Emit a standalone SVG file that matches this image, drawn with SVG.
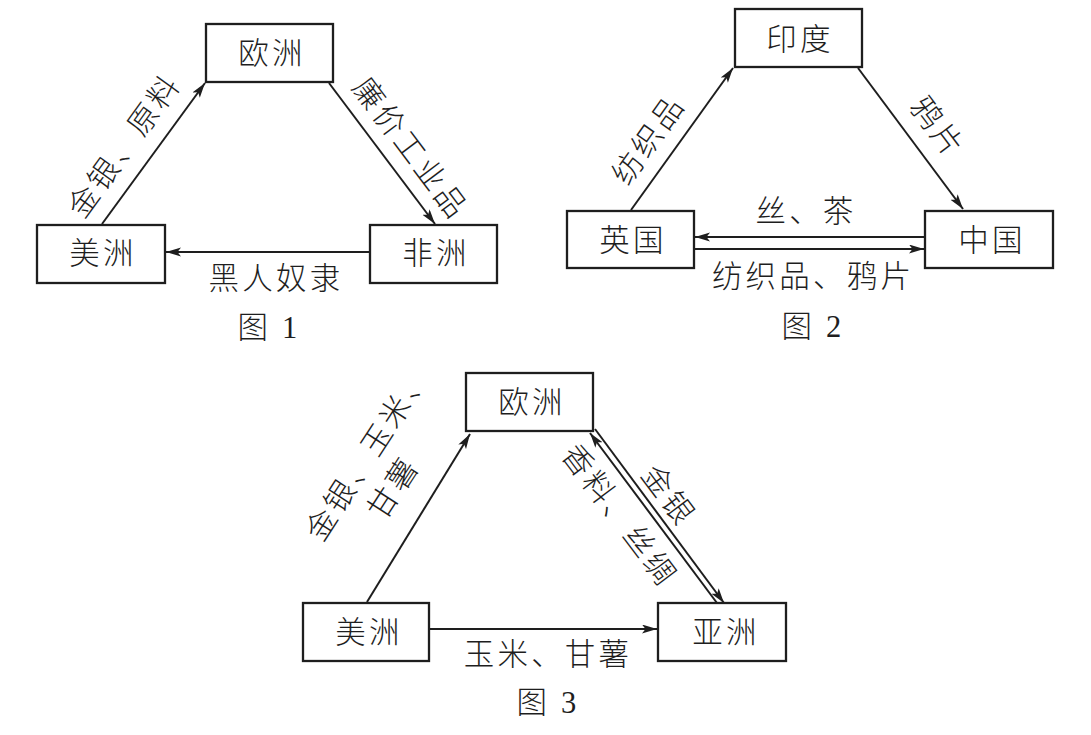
<svg xmlns="http://www.w3.org/2000/svg" width="1091" height="735" viewBox="0 0 1091 735">
<style>
.bg{fill:#ffffff}
.box{fill:#ffffff;stroke:#1e1e1e;stroke-width:2.3}
.t{font-family:"Liberation Serif","Noto Sans CJK SC",serif;font-size:30.5px;font-weight:300;fill:#1e1e1e;letter-spacing:3.2px;text-anchor:middle;dominant-baseline:central}
.ln{fill:none;stroke:#1e1e1e;stroke-width:2}
</style>
<defs>
<marker id="ah" markerUnits="userSpaceOnUse" markerWidth="17" markerHeight="10" refX="15" refY="4.5" orient="auto" viewBox="0 0 17 10">
<path d="M0,0 L15,4.5 L0,9 L3.5,4.5 z" fill="#1e1e1e"/>
</marker>
</defs>
<rect class="bg" x="0" y="0" width="1091" height="735"/>

<g id="connectors">
<!-- Figure 1 -->
<line class="ln" x1="102" y1="224" x2="205" y2="83" marker-end="url(#ah)"/>
<line class="ln" x1="329" y1="83" x2="435" y2="224" marker-end="url(#ah)"/>
<line class="ln" x1="370" y1="252" x2="166" y2="252" marker-end="url(#ah)"/>
<!-- Figure 2 -->
<line class="ln" x1="631" y1="210" x2="733" y2="68" marker-end="url(#ah)"/>
<line class="ln" x1="858" y1="68" x2="963" y2="209" marker-end="url(#ah)"/>
<line class="ln" x1="925" y1="237" x2="695" y2="237" marker-end="url(#ah)"/>
<line class="ln" x1="694" y1="249" x2="924" y2="249" marker-end="url(#ah)"/>
<!-- Figure 3 -->
<line class="ln" x1="367" y1="602" x2="470" y2="434" marker-end="url(#ah)"/>
<line class="ln" x1="429" y1="629" x2="657" y2="629" marker-end="url(#ah)"/>
<line class="ln" x1="717" y1="603" x2="590" y2="433" marker-end="url(#ah)"/>
<line class="ln" x1="595" y1="429" x2="724" y2="603" marker-end="url(#ah)"/>
</g>

<g id="edge-labels">
<text class="t" transform="translate(125,146) rotate(-54)">金银、原料</text>
<text class="t" transform="translate(410,149) rotate(53)">廉价工业品</text>
<text class="t" x="276" y="279">黑人奴隶</text>
<text class="t" transform="translate(649,140) rotate(-54.5)">纺织品</text>
<text class="t" transform="translate(937,128) rotate(53)">鸦片</text>
<text class="t" x="806" y="212">丝、茶</text>
<text class="t" x="813" y="277">纺织品、鸦片</text>
<text class="t" transform="translate(369,453) rotate(-57)">金银、玉米、</text>
<text class="t" transform="translate(394,488) rotate(-57)">甘薯</text>
<text class="t" transform="translate(619,516) rotate(53)">香料、丝绸</text>
<text class="t" transform="translate(668,496) rotate(53)">金银</text>
<text class="t" x="548" y="655">玉米、甘薯</text>
</g>

<g id="fig1-europe"><rect class="box" x="206" y="24" width="127" height="58"/><text class="t" x="272" y="54">欧洲</text></g>
<g id="fig1-america"><rect class="box" x="37" y="225" width="128" height="58"/><text class="t" x="103" y="254">美洲</text></g>
<g id="fig1-africa"><rect class="box" x="370" y="225" width="127" height="58"/><text class="t" x="436" y="254">非洲</text></g>

<g id="fig2-india"><rect class="box" x="735" y="9" width="127" height="58"/><text class="t" x="800" y="40">印度</text></g>
<g id="fig2-britain"><rect class="box" x="567" y="211" width="127" height="57"/><text class="t" x="633" y="241">英国</text></g>
<g id="fig2-china"><rect class="box" x="925" y="211" width="128" height="57"/><text class="t" x="992" y="241">中国</text></g>

<g id="fig3-europe"><rect class="box" x="466" y="373" width="127" height="58"/><text class="t" x="532" y="403">欧洲</text></g>
<g id="fig3-america"><rect class="box" x="303" y="603" width="126" height="58"/><text class="t" x="369" y="633">美洲</text></g>
<g id="fig3-asia"><rect class="box" x="658" y="603" width="128" height="58"/><text class="t" x="726" y="633">亚洲</text></g>

<g id="captions">
<text class="t" x="269" y="328">图 1</text>
<text class="t" x="813" y="327">图 2</text>
<text class="t" x="548" y="703">图 3</text>
</g>
</svg>
